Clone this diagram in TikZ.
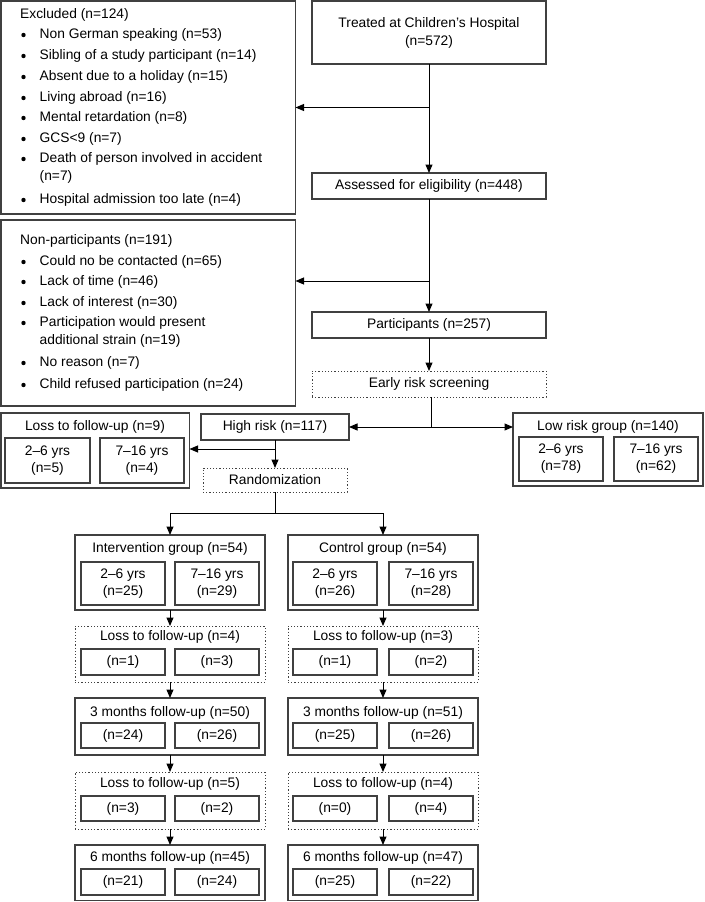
\documentclass[tikz,border=0pt]{standalone}
\usepackage{fontspec}
\setmainfont{Liberation Sans}
\usetikzlibrary{arrows.meta}
\definecolor{bordc}{gray}{0.25}
\newcommand{\mybox}[7]{%
  \pgfmathsetmacro{\mbw}{#4-#2}\pgfmathsetmacro{\mbh}{#5-#3}%
  \node[#6, minimum width=\mbw pt, minimum height=\mbh pt] (#1) at ({(#2+#4)/2},{(#3+#5)/2}) {#7};}
\begin{document}
\begin{tikzpicture}[x=1pt,y=-1pt,
  font=\fontsize{13.8}{17}\selectfont,
  box/.style={draw=bordc, line width=1.2pt, inner sep=1pt, outer sep=0pt, align=center},
  dbox/.style={box, dotted, line width=1pt},
  ltxt/.style={anchor=west, inner sep=0pt},
  ttxt/.style={inner sep=0pt},
  conn/.style={line width=1pt, black},
  arr/.style={conn, -{Triangle[length=8.5pt,width=7pt]}}]
\useasboundingbox (0,0) rectangle (704,902);

% Excluded list
\mybox{excl}{1}{1}{295.5}{214}{box}{}
\node[ltxt] (ex0) at (20,15) {Excluded (n=124)};
\node[ltxt] (ex1) at (39.5,35) {Non German speaking (n=53)};
\node[ltxt] (ex2) at (39.5,56) {Sibling of a study participant (n=14)};
\node[ltxt] (ex3) at (39.5,77) {Absent due to a holiday (n=15)};
\node[ltxt] (ex4) at (39.5,98) {Living abroad (n=16)};
\node[ltxt] (ex5) at (39.5,118) {Mental retardation (n=8)};
\node[ltxt] (ex6) at (39.5,139) {GCS<9 (n=7)};
\node[ltxt] (ex7) at (39.5,159) {Death of person involved in accident};
\node[ltxt] (ex8) at (39.5,177) {(n=7)};
\node[ltxt] (ex9) at (39.5,200) {Hospital admission too late (n=4)};
\foreach \yy in {35,56,77,98,118,139,159,200} \fill[black] (23.5,\yy) circle (2.2pt);

% Non-participants list
\mybox{nonp}{1}{220}{295.5}{406}{box}{}
\node[ltxt] (np0) at (20,241) {Non-participants (n=191)};
\node[ltxt] (np1) at (39.5,262) {Could no be contacted (n=65)};
\node[ltxt] (np2) at (39.5,282) {Lack of time (n=46)};
\node[ltxt] (np3) at (39.5,303) {Lack of interest (n=30)};
\node[ltxt] (np4) at (39.5,323) {Participation would present};
\node[ltxt] (np5) at (39.5,341) {additional strain (n=19)};
\node[ltxt] (np6) at (39.5,363) {No reason (n=7)};
\node[ltxt] (np7) at (39.5,385) {Child refused participation (n=24)};
\foreach \yy in {262,282,303,323,363,385} \fill[black] (23.5,\yy) circle (2.2pt);

% main column
\mybox{treat}{312}{1}{546}{64}{box, font=\fontsize{13.8}{18}\selectfont}{Treated at Children's Hospital\\(n=572)}
\mybox{assess}{312}{173}{546}{199}{box}{Assessed for eligibility (n=448)}
\mybox{part}{312}{312}{546}{338}{box}{Participants (n=257)}
\mybox{early}{312}{371}{546}{397}{dbox}{Early risk screening}
\mybox{high}{201}{414}{349}{440}{box}{High risk (n=117)}
\mybox{rand}{203}{468}{347}{492}{dbox}{Randomization}

% Low risk group
\mybox{low}{513}{413}{703}{486}{box}{}
\node[ttxt] (lowt) at (608,427) {Low risk group (n=140)};
\mybox{lowa}{519}{437}{603}{481}{box}{2–6 yrs\\(n=78)}
\mybox{lowb}{614}{437}{698}{481}{box}{7–16 yrs\\(n=62)}

% Loss n=9
\mybox{lnine}{1}{413}{189.5}{488}{box}{}
\node[ttxt] (lninet) at (95,427) {Loss to follow-up (n=9)};
\mybox{lninea}{5}{438}{90}{483}{box}{2–6 yrs\\(n=5)}
\mybox{lnineb}{100}{438}{184}{483}{box}{7–16 yrs\\(n=4)}

% Intervention / control
\mybox{inter}{75}{535}{265}{610}{box}{}
\node[ttxt] (intert) at (170,549) {Intervention group (n=54)};
\mybox{intera}{81}{562}{165}{605}{box}{2–6 yrs\\(n=25)}
\mybox{interb}{175}{562}{259}{605}{box}{7–16 yrs\\(n=29)}
\mybox{ctrl}{288}{535}{478}{610}{box}{}
\node[ttxt] (ctrlt) at (383,549) {Control group (n=54)};
\mybox{ctrla}{293}{562}{377}{605}{box}{2–6 yrs\\(n=26)}
\mybox{ctrlb}{389}{562}{473}{605}{box}{7–16 yrs\\(n=28)}

% Loss 1
\mybox{lia}{75}{626}{265}{682}{dbox}{}
\node[ttxt] (liat) at (170,637) {Loss to follow-up (n=4)};
\mybox{liaa}{81}{649}{165}{675}{box}{(n=1)}
\mybox{liab}{175}{649}{259}{675}{box}{(n=3)}
\mybox{lic}{288}{626}{478}{682}{dbox}{}
\node[ttxt] (lict) at (383,637) {Loss to follow-up (n=3)};
\mybox{lica}{293}{649}{377}{675}{box}{(n=1)}
\mybox{licb}{389}{649}{473}{675}{box}{(n=2)}

% 3 months
\mybox{tma}{75}{698}{265}{755}{box}{}
\node[ttxt] (tmat) at (170,713) {3 months follow-up (n=50)};
\mybox{tmaa}{81}{723}{165}{748}{box}{(n=24)}
\mybox{tmab}{175}{723}{259}{748}{box}{(n=26)}
\mybox{tmc}{288}{698}{478}{755}{box}{}
\node[ttxt] (tmct) at (383,713) {3 months follow-up (n=51)};
\mybox{tmca}{293}{723}{377}{748}{box}{(n=25)}
\mybox{tmcb}{389}{723}{473}{748}{box}{(n=26)}

% Loss 2
\mybox{lna}{75}{772}{265}{829}{dbox}{}
\node[ttxt] (lnat) at (170,784) {Loss to follow-up (n=5)};
\mybox{lnaa}{81}{796}{165}{821}{box}{(n=3)}
\mybox{lnab}{175}{796}{259}{821}{box}{(n=2)}
\mybox{lnc}{288}{772}{478}{829}{dbox}{}
\node[ttxt] (lnct) at (383,784) {Loss to follow-up (n=4)};
\mybox{lnca}{293}{796}{377}{821}{box}{(n=0)}
\mybox{lncb}{389}{796}{473}{821}{box}{(n=4)}

% 6 months
\mybox{sma}{75}{845}{265}{900.5}{box}{}
\node[ttxt] (smat) at (170,858) {6 months follow-up (n=45)};
\mybox{smaa}{81}{869}{165}{895}{box}{(n=21)}
\mybox{smab}{175}{869}{259}{895}{box}{(n=24)}
\mybox{smc}{288}{845}{478}{900.5}{box}{}
\node[ttxt] (smct) at (383,858) {6 months follow-up (n=47)};
\mybox{smca}{293}{869}{377}{895}{box}{(n=25)}
\mybox{smcb}{389}{869}{473}{895}{box}{(n=22)}

% connectors
\draw[arr] (treat.south) -- (assess.north);
\draw[arr] (treat.south |- excl.east) -- (excl.east);
\coordinate (bnp) at (429,281);
\draw[arr] (assess.south) -- (part.north);
\draw[arr] (bnp) -- (bnp -| nonp.east);
\draw[arr] (part.south) -- (early.north);
\coordinate (er) at (431,427);
\draw[conn] (early.south -| er) -- (er);
\draw[arr] (er) -- (high.east);
\draw[arr] (er) -- (er -| low.west);
\coordinate (hr) at (275,449);
\draw[arr] (high.south) -- (rand.north);
\draw[arr] (hr) -- (hr -| lnine.east);
\coordinate (rz) at (275,513);
\draw[conn] (rand.south) -- (rz);
\draw[conn] (rz -| inter.north) -- (rz -| ctrl.north);
\draw[arr] (rz -| inter.north) -- (inter.north);
\draw[arr] (rz -| ctrl.north) -- (ctrl.north);
\draw[arr] (inter.south) -- (lia.north);
\draw[arr] (lia.south) -- (tma.north);
\draw[arr] (tma.south) -- (lna.north);
\draw[arr] (lna.south) -- (sma.north);
\draw[arr] (ctrl.south) -- (lic.north);
\draw[arr] (lic.south) -- (tmc.north);
\draw[arr] (tmc.south) -- (lnc.north);
\draw[arr] (lnc.south) -- (smc.north);
\end{tikzpicture}
\end{document}
